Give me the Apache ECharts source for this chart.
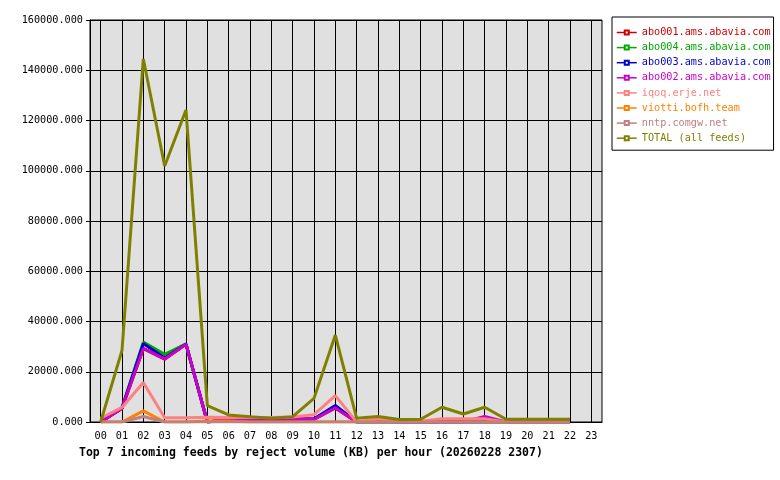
<!DOCTYPE html>
<html>
<head>
<meta charset="utf-8">
<script src="https://cdn.jsdelivr.net/npm/echarts@6/dist/echarts.min.js"></script>
<style>html,body{margin:0;padding:0;background:#fff}#c{width:780px;height:480px}</style>
</head>
<body>
<div id="c"></div>
<script>
var hours = ['00','01','02','03','04','05','06','07','08','09','10','11','12','13','14','15','16','17','18','19','20','21','22','23'];
var yTicks = [0, 20000, 40000, 60000, 80000, 100000, 120000, 140000, 160000];

var abo001 = [0, 5400, 29200, 25000, 30900, 0, 1000, 1000, 1000, 1200, 1000, 5600, 0, 0, 0, 0, 0, 0, 0, 0, 0, 0, 0, null];
var abo004 = [0, 5800, 31800, 26900, 31100, 0, 1000, 1000, 1000, 1200, 1200, 6200, 0, 0, 0, 0, 0, 0, 0, 0, 0, 0, 0, null];
var abo003 = [0, 5600, 31200, 25500, 31000, 0, 1000, 1000, 1000, 1200, 1300, 6600, 0, 0, 0, 0, 0, 0, 0, 0, 0, 0, 0, null];
var abo002 = [0, 5500, 29300, 25100, 31000, 0, 1100, 1100, 1100, 1300, 1100, 5600, 0, 500, 0, 0, 0, 0, 2200, 0, 0, 0, 0, null];
var iqoq   = [1500, 5800, 15700, 1700, 1700, 1900, 1800, 1800, 1800, 2000, 2900, 10500, 0, 1300, 300, 300, 1300, 1300, 1300, 0, 0, 0, 0, null];
var viotti = [0, 0, 4400, 0, 0, 400, 400, 0, 0, 0, 0, 0, 0, 0, 0, 0, 0, 0, 0, 0, 0, 0, 0, null];
var nntp   = [0, 0, 2200, 0, 0, 0, 0, 0, 0, 0, 0, 0, 0, 0, 0, 0, 0, 0, 0, 0, 0, 0, 0, null];
var total  = [0, 28500, 144500, 101900, 124200, 6500, 2800, 2100, 1450, 2100, 9400, 34600, 1450, 2200, 1000, 1100, 5850, 3200, 5850, 1100, 1100, 1100, 1100, null];

var names = ['abo001.ams.abavia.com','abo004.ams.abavia.com','abo003.ams.abavia.com','abo002.ams.abavia.com','iqoq.erje.net','viotti.bofh.team','nntp.comgw.net','TOTAL (all feeds)'];
var colors = ['#CC0000','#00AA00','#0000CC','#CC00CC','#FF8080','#FF8000','#C08080','#808000'];
var datas = [abo001, abo004, abo003, abo002, iqoq, viotti, nntp, total];

var mono = 'DejaVu Sans Mono';
var chart = echarts.init(document.getElementById('c'), null, {renderer: 'canvas'});
chart.setOption({
  animation: false,
  backgroundColor: '#fff',
  title: {
    text: 'Top 7 incoming feeds by reject volume (KB) per hour (20260228 2307)',
    left: 74, top: 442,
    textStyle: {fontFamily: mono, fontSize: 11.5, fontWeight: 'bold', color: '#000'}
  },
  legend: {
    orient: 'vertical',
    left: 612, top: 17,
    padding: [10.5, 3, 7, 4],
    itemWidth: 20, itemHeight: 5,
    itemGap: 5.1,
    borderColor: '#000', borderWidth: 1, backgroundColor: '#fff',
    lineStyle: {width: 1.5},
    textStyle: {fontFamily: mono, fontSize: 10.2, lineHeight: 10},
    data: names.map(function (n, i) { return {name: n, textStyle: {color: colors[i]}}; })
  },
  grid: {
    left: 90, top: 20, width: 512, height: 402,
    show: true, backgroundColor: '#E0E0E0', borderColor: '#000', borderWidth: 1
  },
  xAxis: {
    type: 'category', data: hours, boundaryGap: true,
    axisLine: {lineStyle: {color: '#000', width: 1}},
    axisTick: {alignWithLabel: true, length: 4, lineStyle: {color: '#000'}},
    splitLine: {show: true, alignWithLabel: true, lineStyle: {color: '#000', width: 1}},
    axisLabel: {fontFamily: mono, fontSize: 10.2, color: '#000', margin: 9, interval: 0}
  },
  yAxis: {
    type: 'value', min: yTicks[0], max: yTicks[yTicks.length - 1], interval: yTicks[1] - yTicks[0],
    axisLine: {show: true, lineStyle: {color: '#000'}},
    axisTick: {show: true, length: 4, lineStyle: {color: '#000'}},
    splitLine: {show: true, lineStyle: {color: '#000', width: 1}},
    axisLabel: {fontFamily: mono, fontSize: 10.2, color: '#000', margin: 7,
      formatter: function (v) { return v.toFixed(3); }}
  },
  series: datas.map(function (d, i) {
    return {
      name: names[i], type: 'line', data: d,
      symbol: 'emptyRect', symbolSize: 4, showSymbol: false,
      color: colors[i],
      lineStyle: {width: 3, color: colors[i]},
      itemStyle: {color: colors[i]},
      z: 2 + i
    };
  })
});
</script>
</body>
</html>
